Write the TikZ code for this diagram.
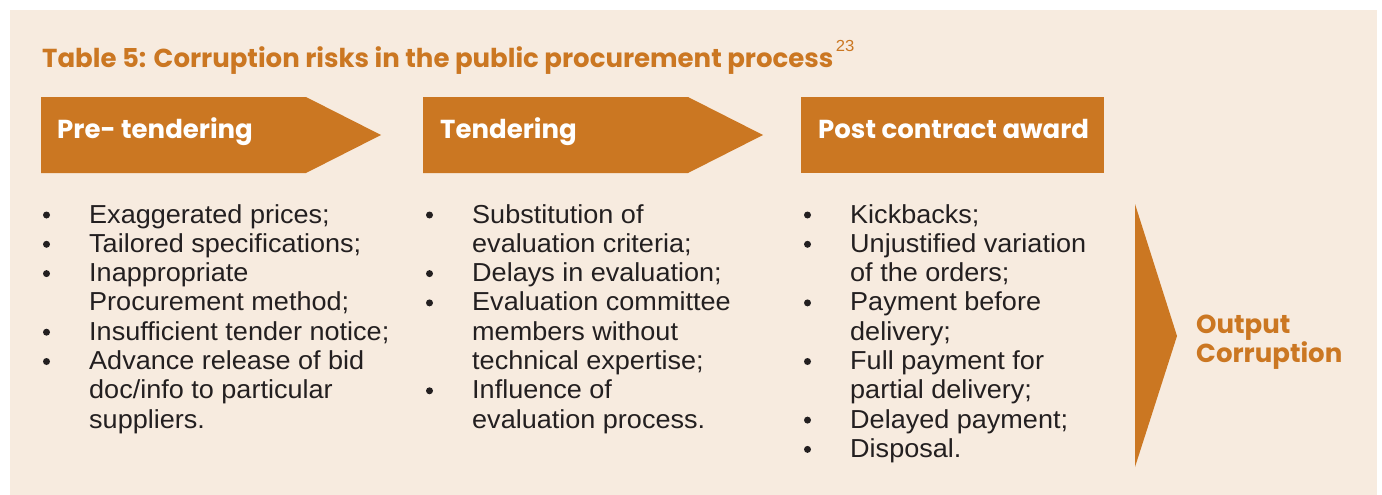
\documentclass[tikz,border=0pt]{standalone}
\usepackage{fontspec}
\setmainfont{Liberation Sans}[FakeStretch=1.04]
\newfontfamily\headfont{Poppins}
\definecolor{ora}{HTML}{CB7722}
\definecolor{bg}{HTML}{F7EBDF}
\definecolor{txt}{HTML}{231F20}
\tikzset{
  chev/.style={fill=ora},
  headtxt/.style={anchor=base west, inner sep=0pt, text=white, font=\headfont\bfseries\fontsize{26}{30}\selectfont},
  titletxt/.style={anchor=base west, inner sep=0pt, text=ora, font=\headfont\bfseries\fontsize{26}{30}\selectfont},
  body/.style={anchor=base west, inner sep=0pt, text=txt, font=\fontsize{26}{30}\selectfont},
  dot/.style={circle, fill=txt, inner sep=0pt, minimum size=7pt}
}
\begin{document}
\begin{tikzpicture}[x=1pt,y=-1pt]
\useasboundingbox (0,0) rectangle (1382,495);
\fill[bg] (10,10) rectangle (1377,495);
% title
\node[titletxt] (title) at (42,67) {Table 5: Corruption risks in the public procurement process};
\node[anchor=base west, inner sep=0pt, text=ora, font=\fontsize{16}{18}\selectfont] (sup) at ([xshift=2pt,yshift=15pt]title.base east) {23};
% chevrons
\fill[chev] (41,97) -- (306,97) -- (381,135) -- (306,173) -- (41,173) -- cycle;
\fill[chev] (423,97) -- (688,97) -- (763,135) -- (688,173) -- (423,173) -- cycle;
\fill[chev] (801,97) rectangle (1104,173);
\fill[chev] (1135,204) -- (1177,336) -- (1135,467) -- cycle;
\node[headtxt] (h1) at (57,139) {Pre- tendering};
\node[headtxt] (h2) at (440,139) {Tendering};
\node[headtxt] (h3) at (818,139) {Post contract award};
\node[titletxt] (out1) at (1196,333) {Output};
\node[titletxt] (out2) at (1196,362) {Corruption};
% column 1
\foreach \t [count=\i] in {{Exaggerated prices;},{Tailored specifications;},{Inappropriate},{Procurement method;},{Insufficient tender notice;},{Advance release of bid},{doc/info to particular},{suppliers.}}
  \node[body] (a\i) at (89,{223+29.3*(\i-1)}) {\t};
\foreach \i in {1,2,3,5,6}
  \node[dot] (ad\i) at (46.5,{215+29.3*(\i-1)}) {};
% column 2
\foreach \t [count=\i] in {{Substitution of},{evaluation criteria;},{Delays in evaluation;},{Evaluation committee},{members without},{technical expertise;},{Influence of},{evaluation process.}}
  \node[body] (b\i) at (472,{223+29.3*(\i-1)}) {\t};
\foreach \i in {1,3,4,7}
  \node[dot] (bd\i) at (429.5,{215+29.3*(\i-1)}) {};
% column 3
\foreach \t [count=\i] in {{Kickbacks;},{Unjustified variation},{of the orders;},{Payment before},{delivery;},{Full payment for},{partial delivery;},{Delayed payment;},{Disposal.}}
  \node[body] (c\i) at (850,{223+29.3*(\i-1)}) {\t};
\foreach \i in {1,2,4,6,8,9}
  \node[dot] (cd\i) at (807.5,{215+29.3*(\i-1)}) {};
\end{tikzpicture}
\end{document}
